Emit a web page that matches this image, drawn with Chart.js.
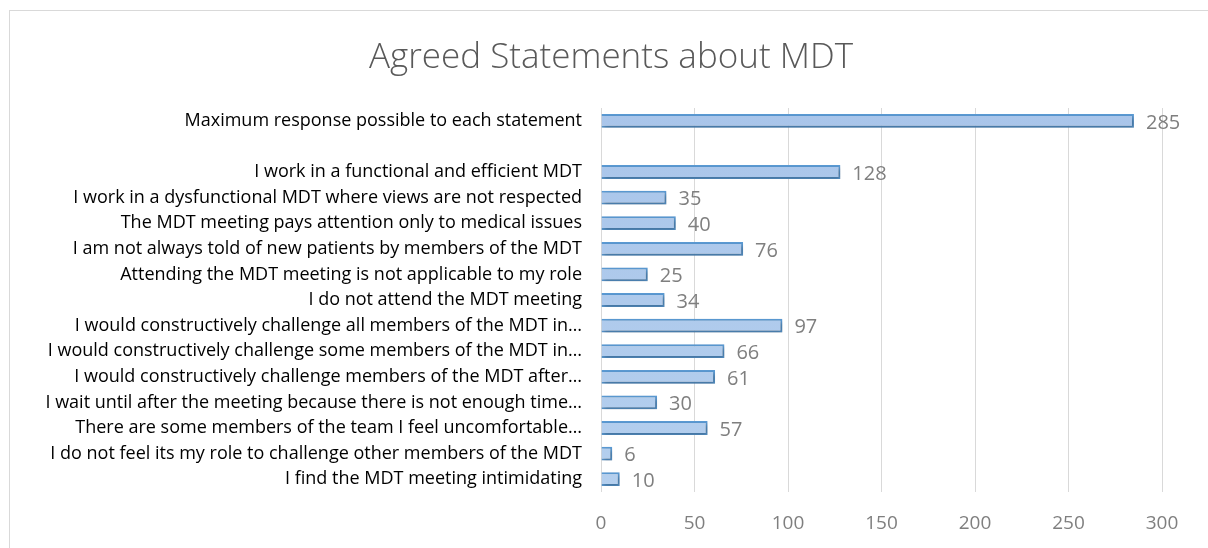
<!DOCTYPE html>
<html>
<head>
<meta charset="utf-8">
<script src="https://cdn.jsdelivr.net/npm/chart.js@4"></script>
<style>
  html, body { margin: 0; padding: 0; background: #fff; overflow: hidden; }
  #frame { position: absolute; left: 9px; top: 10px; width: 1300px; height: 700px; border: 1px solid #d9d9d9; }
  #wrap { position: absolute; left: 0; top: 0; width: 1208px; height: 548px; }
</style>
</head>
<body>
<div id="frame"></div>
<div id="wrap"><canvas id="mdt_chart" width="1208" height="548"></canvas></div>
<script>
const statements = [
    'Maximum response possible to each statement',
    '',
    'I work in a functional and efficient MDT',
    'I work in a dysfunctional MDT where views are not respected',
    'The MDT meeting pays attention only to medical issues',
    'I am not always told of new patients by members of the MDT',
    'Attending the MDT meeting is not applicable to my role',
    'I do not attend the MDT meeting',
    'I would constructively challenge all members of the MDT in…',
    'I would constructively challenge some members of the MDT in…',
    'I would constructively challenge members of the MDT after…',
    'I wait until after the meeting because there is not enough time…',
    'There are some members of the team I feel uncomfortable…',
    'I do not feel its my role to challenge other members of the MDT',
    'I find the MDT meeting intimidating'
];
const responses = [285, null, 128, 35, 40, 76, 25, 34, 97, 66, 61, 30, 57, 6, 10];
const xTicks = [0, 50, 100, 150, 200, 250, 300];

const FONT = '"Open Sans", Lato, sans-serif';

// value labels at the end of each bar
const valueLabels = {
    id: 'valueLabels',
    afterDatasetsDraw(chart) {
        const ctx = chart.ctx;
        const meta = chart.getDatasetMeta(0);
        ctx.save();
        ctx.font = '20px ' + FONT;
        ctx.fillStyle = '#7f7f7f';
        ctx.textBaseline = 'middle';
        meta.data.forEach((bar, i) => {
            if (responses[i] == null) return;
            ctx.fillText(String(responses[i]), bar.x + 12, bar.y + 2);
        });
        ctx.restore();
    }
};

// soft shadow under the bars
const barShadow = {
    id: 'barShadow',
    beforeDatasetsDraw(chart) {
        chart.ctx.save();
        chart.ctx.shadowColor = 'rgba(0,0,0,0.3)';
        chart.ctx.shadowBlur = 4;
        chart.ctx.shadowOffsetX = 2;
        chart.ctx.shadowOffsetY = 2;
    },
    afterDatasetsDraw(chart) {
        chart.ctx.restore();
    }
};

// title sits a bit right of the canvas centre in the original
const shiftTitle = {
    id: 'shiftTitle',
    afterLayout(chart) {
        const t = chart.titleBlock;
        if (t) { t.left += 60; t.width -= 60; }
    }
};

const ctx = document.getElementById('mdt_chart').getContext('2d');

new Chart(ctx, {
    type: 'bar',
    data: {
        labels: statements,
        datasets: [{
            label: 'Responses',
            data: responses,
            backgroundColor: (c) => {
                const area = c.chart.chartArea;
                if (!area) return '#aecbeb';
                const g = c.chart.ctx.createLinearGradient(0, area.top, 0, area.bottom);
                g.addColorStop(0, '#a9c5ea');
                g.addColorStop(1, '#b4cfee');
                return g;
            },
            borderColor: '#5b9bd5',
            borderWidth: 2,
            barPercentage: 0.6,
            categoryPercentage: 0.9
        }]
    },
    options: {
        indexAxis: 'y',
        responsive: false,
        animation: false,
        layout: { padding: { left: 0, right: 46, top: 0, bottom: 0 } },
        plugins: {
            legend: { display: false },
            tooltip: { enabled: false },
            title: {
                display: true,
                text: 'Agreed Statements about MDT',
                color: '#595959',
                font: { family: FONT, size: 35, weight: '300' },
                padding: { top: 37, bottom: 29 }
            }
        },
        scales: {
            x: {
                min: 0,
                max: 300,
                afterBuildTicks: (scale) => { scale.ticks = xTicks.map(v => ({ value: v })); },
                afterFit: (scale) => { scale.height = 56; },
                grid: { color: '#d9d9d9', drawTicks: false },
                border: { display: false },
                ticks: {
                    color: '#7f7f7f',
                    padding: 20,
                    font: { family: FONT, size: 19 }
                }
            },
            y: {
                afterFit: (scale) => { scale.width = 601; },
                grid: { display: false, drawTicks: false },
                border: { display: false },
                ticks: {
                    color: '#000',
                    padding: 19,
                    autoSkip: false,
                    font: { family: FONT, size: 18 }
                }
            }
        }
    },
    plugins: [barShadow, valueLabels, shiftTitle]
});
</script>
</body>
</html>
